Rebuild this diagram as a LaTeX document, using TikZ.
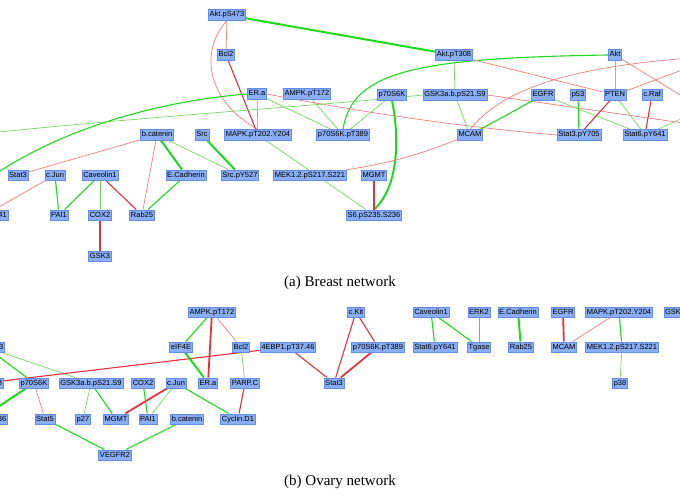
\documentclass[tikz,border=0pt]{standalone}
\usepackage{fontspec}
\setmainfont{Liberation Serif}
\newfontfamily\nodefont{Liberation Sans}
\usetikzlibrary{backgrounds}
\definecolor{boxfill}{RGB}{138,174,245}
\definecolor{boxline}{RGB}{100,140,235}
\definecolor{eg}{RGB}{30,215,30}
\definecolor{egl}{RGB}{115,215,95}
\definecolor{er}{RGB}{225,50,60}
\definecolor{erl}{RGB}{235,125,125}
\tikzset{
 prot/.style={draw=boxline, fill=boxfill, line width=0.6pt, inner xsep=1.2pt, inner ysep=1.6pt, text height=5.6pt, text depth=1.6pt, font=\nodefont\fontsize{7.5}{8.5}\selectfont},
 eG/.style={draw=eg, line width=1.1pt},
 eGt/.style={draw=eg, line width=2pt},
 eGl/.style={draw=egl, line width=0.7pt},
 eR/.style={draw=er, line width=1.1pt},
 eRt/.style={draw=er, line width=1.8pt},
 eRl/.style={draw=erl, line width=0.7pt},
 captxt/.style={font=\fontsize{15}{18}\selectfont, inner sep=0pt}
}
\begin{document}
\begin{tikzpicture}[x=1pt,y=-1pt]
\useasboundingbox (0,0) rectangle (680,500);
\clip (0,0) rectangle (680,500);
% ---------- Breast network ----------
\node[prot] (AktS473) at (227,15) {Akt.pS473};
\node[prot] (Bcl2) at (226,55) {Bcl2};
\node[prot] (AktT308) at (454,55) {Akt.pT308};
\node[prot] (Akt) at (615,55) {Akt};
\node[prot] (ERa) at (257,94) {ER.a};
\node[prot] (AMPK) at (307,94) {AMPK.pT172};
\node[prot] (p70) at (392,95) {p70S6K};
\node[prot] (GSKab) at (455,95) {GSK3a.b.pS21.S9};
\node[prot] (EGFR) at (543,95) {EGFR};
\node[prot] (p53) at (578,95) {p53};
\node[prot] (PTEN) at (615,95) {PTEN};
\node[prot] (cRaf) at (652,95) {c.Raf};
\node[prot] (bcat) at (157,135) {b.catenin};
\node[prot] (Src) at (202,135) {Src};
\node[prot] (MAPK) at (258,135) {MAPK.pT202.Y204};
\node[prot] (p70T) at (343,135) {p70S6K.pT389};
\node[prot] (MCAM) at (470,135) {MCAM};
\node[prot] (Stat3pY) at (579,135) {Stat3.pY705};
\node[prot] (Stat6pY) at (645,135) {Stat6.pY641};
\node[prot] (Stat3) at (18,175) {Stat3};
\node[prot] (cJun) at (55,175) {c.Jun};
\node[prot] (Cav1) at (100,175) {Caveolin1};
\node[prot] (ECad) at (186,175) {E.Cadherin};
\node[prot] (SrcY) at (240,175) {Src.pY527};
\node[prot] (MEK) at (310,175) {MEK1.2.pS217.S221};
\node[prot] (MGMT) at (374,175) {MGMT};
\node[prot] (PDK1) at (-15,215) {PDK1.pS241};
\node[prot] (PAI1) at (59,215) {PAI1};
\node[prot] (COX2) at (100,215) {COX2};
\node[prot] (Rab25) at (142,215) {Rab25};
\node[prot] (S6) at (374,215) {S6.pS235.S236};
\node[prot] (GSK3) at (100,256) {GSK3};
\coordinate (offL1) at (-20,185);
\coordinate (offL2) at (-20,134);
\coordinate (offR1) at (690,101);
\coordinate (offR2) at (690,67);
\coordinate (offR3) at (690,58);
\coordinate (offR4) at (690,124);
\coordinate (offR5) at (690,115);
\node[captxt] (capA) at (340,283) {(a) Breast network};
% ---------- Ovary network ----------
\node[prot] (AMPKb) at (212,312) {AMPK.pT172};
\node[prot] (eIF4E) at (181,347) {eIF4E};
\node[prot] (Bcl2b) at (241,347) {Bcl2};
\node[prot] (EBP) at (288,347) {4EBP1.pT37.46};
\node[prot] (AktS473b) at (-14,347) {Akt.pS473};
\node[prot] (AktT308b) at (-15,383) {Akt.pT308};
\node[prot] (p70b) at (34,383) {p70S6K};
\node[prot] (GSKb) at (91,383) {GSK3a.b.pS21.S9};
\node[prot] (COX2b) at (143,383) {COX2};
\node[prot] (cJunb) at (176,383) {c.Jun};
\node[prot] (ERab) at (208,383) {ER.a};
\node[prot] (PARP) at (245,383) {PARP.C};
\node[prot] (S6b) at (-20,419) {S6.pS235.S236};
\node[prot] (Stat5) at (45,419) {Stat5};
\node[prot] (p27) at (83,419) {p27};
\node[prot] (MGMTb) at (116,419) {MGMT};
\node[prot] (PAI1b) at (148,419) {PAI1};
\node[prot] (bcatb) at (187,419) {b.catenin};
\node[prot] (CycD1) at (238,419) {Cyclin.D1};
\node[prot] (VEGFR2) at (115,455) {VEGFR2};
\node[prot] (cKit) at (356,312) {c.Kit};
\node[prot] (p70Tb) at (378,347) {p70S6K.pT389};
\node[prot] (Stat3b) at (334,383) {Stat3};
\node[prot] (Cav1b) at (431,312) {Caveolin1};
\node[prot] (ERK2) at (479,312) {ERK2};
\node[prot] (ECadb) at (518,312) {E.Cadherin};
\node[prot] (EGFRb) at (563,312) {EGFR};
\node[prot] (MAPKb) at (619,312) {MAPK.pT202.Y204};
\node[prot] (GSK3b) at (675,312) {GSK3};
\node[prot] (Stat6b) at (435,347) {Stat6.pY641};
\node[prot] (Tgase) at (479,347) {Tgase};
\node[prot] (Rab25b) at (521,347) {Rab25};
\node[prot] (MCAMb) at (564,347) {MCAM};
\node[prot] (MEKb) at (622,347) {MEK1.2.pS217.S221};
\node[prot] (p38) at (620,383) {p38};
\node[captxt] (capB) at (340,482) {(b) Ovary network};
\begin{pgfonlayer}{background}
% Breast edges
\draw[eGt] (AktS473) -- (AktT308);
\draw[eRl] (AktS473) -- (Bcl2);
\draw[eRl] (AktS473.south) .. controls (200,50) and (205,100) .. (MAPK.north);
\draw[eR] (Bcl2) -- (MAPK);
\draw[eRl] (ERa) -- (MAPK);
\draw[eRl] (ERa.east) .. controls (350,110) and (450,126) .. (Stat3pY.west);
\draw[eGl] (ERa) -- (p70T);
\draw[eG] (ERa.west) .. controls (170,100) and (60,125) .. (offL1);
\draw[eGl] (AMPK) -- (p70T);
\draw[eGl] (p70) -- (p70T);
\draw[eG] (Akt.west) .. controls (420,58) and (352,70) .. (p70T.north);
\draw[eGt] (p70.south) .. controls (400,140) and (398,188) .. (S6.north);
\draw[eGl] (GSKab.west) .. controls (330,105) and (150,116) .. (offL2);
\draw[eGl] (AktT308) -- (GSKab);
\draw[eRl] (AktT308) -- (PTEN);
\draw[eGl] (Akt) -- (PTEN);
\draw[eRl] (Akt) -- (offR1);
\draw[eRl] (PTEN) -- (offR2);
\draw[eRl] (MCAM.north) .. controls (500,92) and (560,68) .. (offR3);
\draw[eGl] (GSKab) -- (MCAM);
\draw[eRl] (GSKab.east) -- (offR4);
\draw[eG] (EGFR) -- (MCAM);
\draw[eGl] (EGFR) -- (Stat6pY);
\draw[eG] (p53) -- (Stat3pY);
\draw[eR] (PTEN) -- (Stat3pY);
\draw[eGl] (PTEN) -- (Stat6pY);
\draw[eR] (cRaf) -- (Stat6pY);
\draw[eGl] (Stat6pY) -- (offR5);
\draw[eRl] (MCAM) to[bend left=6] (MEK);
\draw[eGl] (MAPK) -- (S6);
\draw[eR] (MGMT) -- (S6);
\draw[eRl] (bcat) -- (Stat3);
\draw[eGt] (bcat) -- (ECad);
\draw[eRl] (bcat) -- (Rab25);
\draw[eGl] (bcat) -- (SrcY);
\draw[eGt] (Src) -- (SrcY);
\draw[eG] (cJun) -- (PAI1);
\draw[eRl] (cJun) -- (PDK1);
\draw[eG] (Cav1) -- (PAI1);
\draw[eGl] (Cav1) -- (COX2);
\draw[eR] (Cav1) -- (Rab25);
\draw[eRt] (COX2) -- (GSK3);
\draw[eG] (ECad) -- (Rab25);
% Ovary edges
\draw[eG] (AktS473b) -- (p70b);
\draw[eGl] (AktS473b) -- (GSKb);
\draw[eR] (EBP) -- (AktT308b);
\draw[eR] (EBP) -- (Stat3b);
\draw[eGt] (p70b) -- (S6b);
\draw[eRl] (p70b) -- (Stat5);
\draw[eGl] (GSKb) -- (p27);
\draw[eG] (GSKb) -- (MGMTb);
\draw[eRt] (cJunb) -- (MGMTb);
\draw[eG] (COX2b) -- (PAI1b);
\draw[eGl] (cJunb) -- (PAI1b);
\draw[eG] (cJunb) -- (CycD1);
\draw[eG] (Stat5) -- (VEGFR2);
\draw[eG] (bcatb) -- (VEGFR2);
\draw[eG] (AMPKb) -- (eIF4E);
\draw[eRt] (AMPKb) -- (ERab);
\draw[eRl] (AMPKb) -- (Bcl2b);
\draw[eGt] (eIF4E) -- (ERab);
\draw[eGl] (Bcl2b) -- (PARP);
\draw[eR] (PARP) -- (CycD1);
\draw[eR] (cKit) -- (Stat3b);
\draw[eR] (cKit) -- (p70Tb);
\draw[eRt] (p70Tb) -- (Stat3b);
\draw[eG] (Cav1b) -- (Stat6b);
\draw[eG] (Cav1b) -- (Tgase);
\draw[eRl] (ERK2) -- (Tgase);
\draw[eGt] (ECadb) -- (Rab25b);
\draw[eRt] (EGFRb) -- (MCAMb);
\draw[eRl] (MAPKb) -- (MCAMb);
\draw[eG] (MAPKb) -- (MEKb);
\draw[eGl] (MEKb) -- (p38);
\end{pgfonlayer}
\end{tikzpicture}
\end{document}
